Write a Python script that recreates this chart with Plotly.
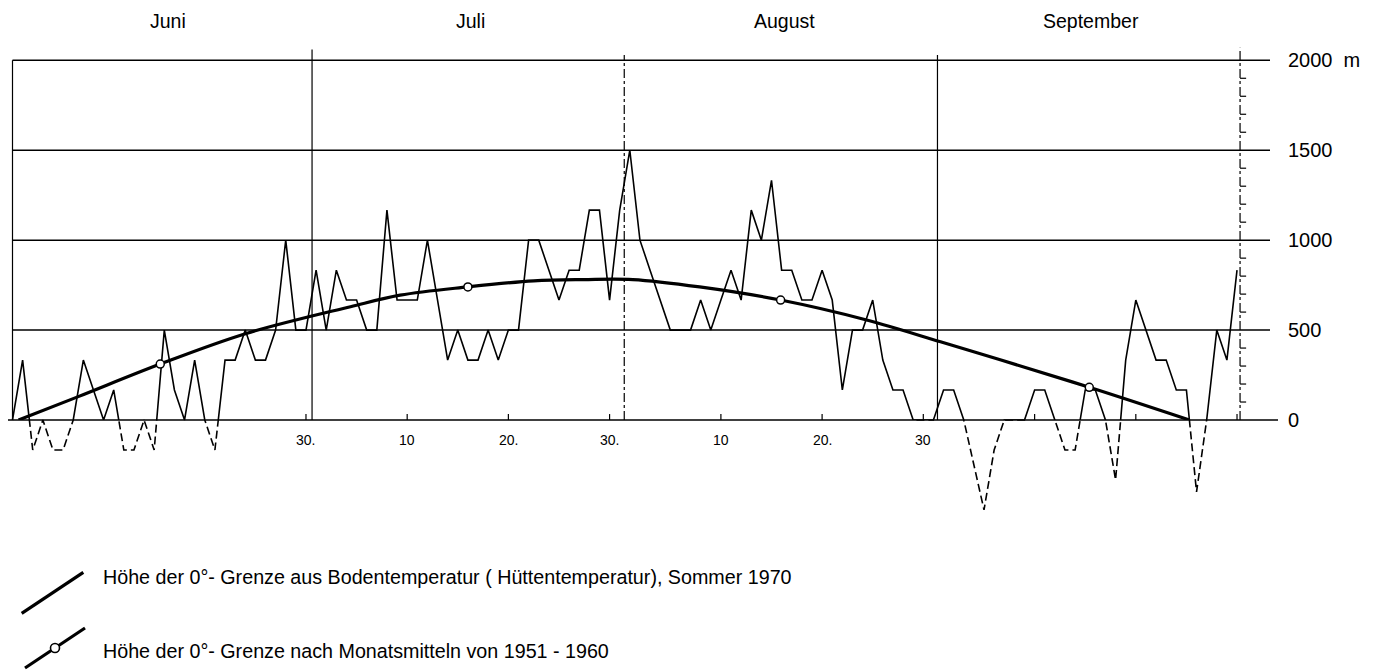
import plotly.graph_objects as go

# ---------------- data ----------------
days = list(range(1, 123))  # 1 = 1 June ... 122 = 30 September 1970
height_1970 = [0, 333, -167, 0, -167, -167, 0, 333, 167, 0,
               167, -167, -167, 0, -167, 500, 167, 0, 333, 0,
               -167, 333, 333, 500, 333, 333, 500, 1000, 500, 500,
               833, 500, 833, 667, 667, 500, 500, 1167, 667, 667,
               667, 1000, 667, 333, 500, 333, 333, 500, 333, 500,
               500, 1000, 1000, 833, 667, 833, 833, 1167, 1167, 667,
               1167, 1500, 1000, 833, 667, 500, 500, 500, 667, 500,
               667, 833, 667, 1167, 1000, 1333, 833, 833, 667, 667,
               833, 667, 167, 500, 500, 667, 333, 167, 167, 0,
               0, 0, 167, 167, 0, -250, -500, -167, 0, 0,
               0, 167, 167, 0, -167, -167, 167, 167, 0, -333,
               333, 667, 500, 333, 333, 167, 167, -400, 0, 500,
               333, 833]

mean_days = [1.6, 7.5, 15.6, 24.1, 34.4, 39.3, 46.0, 52.5, 57.4, 62.3,
             68.9, 76.9, 85.4, 92.7, 98.6, 107.4, 117.3]
mean_height = [0, 130, 311, 481, 630, 694, 740, 774, 781, 781,
               740, 667, 556, 435, 335, 182, 0]
month_mean_days = [15.6, 46.0, 76.9, 107.4]
month_mean_height = [311, 740, 667, 182]

month_names = ["Juni", "Juli", "August", "September"]
month_label_days = [16.4, 46.3, 77.3, 107.6]
month_boundaries = [1, 30.6, 61.45, 92.4, 122.3]

day_tick_days = [30, 40, 50, 60, 71, 81, 91]
day_tick_labels = ["30.", "10", "20.", "30.", "10", "20.", "30"]
extra_tick_days = [102, 112, 122]

y_tick_vals = [0, 500, 1000, 1500, 2000]
y_tick_labels = ["0", "500", "1000", "1500", "2000  m"]

legend_texts = [
    "Höhe der 0°- Grenze aus Bodentemperatur ( Hüttentemperatur), Sommer 1970",
    "Höhe der 0°- Grenze nach Monatsmitteln von 1951 - 1960",
]

# ---------------- geometry (reference pixel coordinates) ----------------
REF_W, REF_H = 1381, 670
OFF = 8                      # page body margin of the html
W, H = REF_W - OFF, REF_H - OFF
PX_PER_DAY = 10.12
DAY1_PX = 12.5
PX_PER_M = 0.17985
ZERO_PX = 420.0


def day_at(px):
    return 1 + (px - DAY1_PX) / PX_PER_DAY


def py(p):  # reference pixel y -> paper
    return (REF_H - p) / H


def pxp(p):  # reference pixel x -> paper
    return (p - OFF) / W


Z = (REF_H - ZERO_PX) / H
x_range = [day_at(OFF), day_at(REF_W)]
top_range = [0, (ZERO_PX - OFF) / PX_PER_M]
bot_range = [-(REF_H - ZERO_PX) / PX_PER_M, 0]

fig = go.Figure()

# negative part (dashed) - lower subplot, clipped at 0
fig.add_trace(go.Scatter(x=days, y=height_1970, yaxis="y2", mode="lines",
                         line=dict(color="black", width=1.6, dash="8px,4px"),
                         hoverinfo="skip", showlegend=False))
# positive part (solid) - upper subplot, clipped at 0
fig.add_trace(go.Scatter(x=days, y=height_1970, yaxis="y", mode="lines",
                         line=dict(color="black", width=1.6),
                         showlegend=False))
# long-term mean curve
fig.add_trace(go.Scatter(x=mean_days, y=mean_height, yaxis="y", mode="lines",
                         line=dict(color="black", width=3.2, shape="spline"),
                         showlegend=False))
fig.add_trace(go.Scatter(x=month_mean_days, y=month_mean_height, yaxis="y",
                         mode="markers", cliponaxis=False,
                         marker=dict(symbol="circle", size=8, color="white",
                                     line=dict(color="black", width=1.5)),
                         showlegend=False))

shapes = []
for v in y_tick_vals[1:]:
    shapes.append(dict(type="line", xref="x", yref="y", x0=1, x1=day_at(1270),
                       y0=v, y1=v, line=dict(color="black", width=1.5)))
shapes.append(dict(type="line", xref="x", yref="paper", x0=day_at(5), x1=day_at(1278),
                   y0=Z, y1=Z, line=dict(color="black", width=1.6)))
tops = [2000, 2060, 2030, 2030, 2070]
styles = ["solid", "solid", "dashdot", "solid", "dashdot"]
for d, t, s in zip(month_boundaries, tops, styles):
    shapes.append(dict(type="line", xref="x", yref="y", x0=d, x1=d, y0=0, y1=t,
                       line=dict(color="black", width=1.2, dash=s)))
for d in day_tick_days + extra_tick_days:
    shapes.append(dict(type="line", xref="x", yref="y", x0=d, x1=d, y0=0, y1=33,
                       line=dict(color="black", width=1.2)))
for v in range(100, 2000, 100):
    if v % 500:
        shapes.append(dict(type="line", xref="x", yref="y",
                           x0=month_boundaries[-1], x1=month_boundaries[-1] + 0.6,
                           y0=v, y1=v, line=dict(color="black", width=1.2)))
# legend glyphs
shapes.append(dict(type="line", xref="paper", yref="paper",
                   x0=pxp(21.7), y0=py(613.3), x1=pxp(83.3), y1=py(572.3),
                   line=dict(color="black", width=3.2)))
shapes.append(dict(type="line", xref="paper", yref="paper",
                   x0=pxp(25), y0=py(668), x1=pxp(85), y1=py(628),
                   line=dict(color="black", width=3.2)))
shapes.append(dict(type="circle", xref="paper", yref="paper",
                   x0=pxp(50.5), x1=pxp(59.5), y0=py(652.5), y1=py(643.5),
                   fillcolor="white", line=dict(color="black", width=1.6)))

annotations = []
for name, d in zip(month_names, month_label_days):
    annotations.append(dict(text=name, x=d, y=py(21), xref="x", yref="paper",
                            showarrow=False, xanchor="center", yanchor="middle",
                            font=dict(family="Liberation Sans, Arial", size=19.5, color="black")))
for lab, d in zip(day_tick_labels, day_tick_days):
    annotations.append(dict(text=lab, x=d, y=py(440), xref="x", yref="paper",
                            showarrow=False, xanchor="center", yanchor="middle",
                            font=dict(family="Liberation Sans Narrow, Liberation Sans, Arial",
                                      size=14, color="black")))
for lab, v in zip(y_tick_labels, y_tick_vals):
    annotations.append(dict(text=lab, x=day_at(1286), y=v, xref="x", yref="y",
                            showarrow=False, xanchor="left", yanchor="middle",
                            font=dict(family="Liberation Sans, Arial", size=20, color="black")))
for txt, yy in zip(legend_texts, [577, 651]):
    annotations.append(dict(text=txt, x=pxp(101), y=py(yy), xref="paper", yref="paper",
                            showarrow=False, xanchor="left", yanchor="middle",
                            font=dict(family="Liberation Sans, Arial", size=19.7, color="black")))

fig.update_layout(
    width=W, height=H,
    margin=dict(l=0, r=0, t=0, b=0),
    paper_bgcolor="white", plot_bgcolor="white",
    showlegend=False,
    xaxis=dict(range=x_range, domain=[0, 1], visible=False, fixedrange=True),
    yaxis=dict(range=top_range, domain=[Z, 1], visible=False, anchor="x"),
    yaxis2=dict(range=bot_range, domain=[0, Z], visible=False, anchor="x"),
    shapes=shapes,
    annotations=annotations,
)

fig.write_html("out.html")
